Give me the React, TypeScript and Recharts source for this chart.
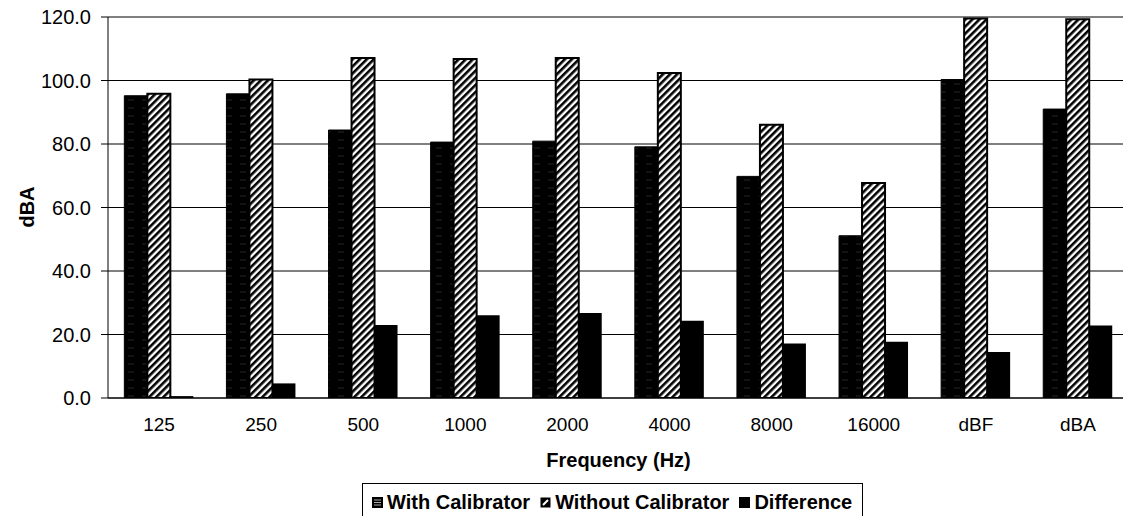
import React from 'react';
import { BarChart, Bar, XAxis, YAxis, CartesianGrid, Legend, Label } from 'recharts';

const categories = ['125', '250', '500', '1000', '2000', '4000', '8000', '16000', 'dBF', 'dBA'];
const withCalibrator = [95.2, 95.8, 84.4, 80.6, 80.9, 79.1, 69.8, 51.1, 100.3, 91.0];
const withoutCalibrator = [95.8, 100.3, 107.1, 106.8, 107.1, 102.4, 86.1, 67.7, 119.5, 119.3];
const difference = [0.6, 4.6, 23.0, 26.1, 26.8, 24.3, 17.2, 17.7, 14.5, 22.8];
const yTicks = [0, 20, 40, 60, 80, 100, 120];
const boundaryTicks = [0, 1, 2, 3, 4, 5, 6, 7, 8, 9, 10];

const seriesNames = ['With Calibrator', 'Without Calibrator', 'Difference'];

const data = categories.map((c, i) => ({
  cat: c,
  withCal: withCalibrator[i],
  withoutCal: withoutCalibrator[i],
  diff: difference[i],
}));

const FONT = '"Liberation Sans", Arial, Helvetica, sans-serif';

const Icon = ({ kind }: { kind: number }) => (
  <svg width={11} height={11} style={{ display: 'block', marginRight: 4 }}>
    {kind === 0 && (
      <g>
        <rect x={0} y={0} width={11} height={11} fill="#000" />
        <line x1={2} x2={9} y1={3} y2={3} stroke="#aaa" strokeWidth={1} />
        <line x1={2} x2={9} y1={5.5} y2={5.5} stroke="#aaa" strokeWidth={1} />
        <line x1={2} x2={9} y1={8} y2={8} stroke="#aaa" strokeWidth={1} />
      </g>
    )}
    {kind === 1 && (
      <g>
        <rect x={0.5} y={0.5} width={10} height={10} fill="#000" />
        <line x1={3} y1={8} x2={8} y2={3} stroke="#fff" strokeWidth={2} />
      </g>
    )}
    {kind === 2 && <rect x={0} y={0} width={11} height={11} fill="#000" />}
  </svg>
);

const LegendBox = () => (
  <div
    style={{
      border: '1px solid #000',
      display: 'inline-flex',
      alignItems: 'center',
      padding: '7px 10px 12px 9px',
      fontFamily: FONT,
      fontWeight: 'bold',
      fontSize: 20,
      color: '#000',
      background: '#fff',
      whiteSpace: 'nowrap',
      lineHeight: '22px',
    }}
  >
    {seriesNames.map((n, i) => (
      <div key={n} style={{ display: 'flex', alignItems: 'center', marginRight: i < 2 ? 10 : 0 }}>
        <Icon kind={i} />
        <span>{n}</span>
      </div>
    ))}
  </div>
);

const YTitle = () => (
  <text
    x={27}
    y={207}
    transform="rotate(-90 27 207)"
    textAnchor="middle"
    dominantBaseline="central"
    fontFamily={FONT}
    fontWeight="bold"
    fontSize={20}
    fill="#000"
  >
    dBA
  </text>
);

const XTitle = (props: any) => {
  const vb = props.viewBox || {};
  const cx = (vb.x ?? 108) + (vb.width ?? 1021) / 2;
  const top = vb.y ?? 398;
  return (
    <text
      x={cx}
      y={top + 62}
      textAnchor="middle"
      dominantBaseline="central"
      fontFamily={FONT}
      fontWeight="bold"
      fontSize={20}
      fill="#000"
    >
      Frequency (Hz)
    </text>
  );
};

export default function App() {
  return (
    <div
      style={{
        position: 'fixed',
        left: 0,
        top: 0,
        width: 1123,
        height: 516,
        overflow: 'hidden',
        background: '#fff',
      }}
    >
      <BarChart
        width={1140}
        height={530}
        data={data}
        margin={{ top: 17, right: 11, left: 0, bottom: 0 }}
        barCategoryGap="16%"
        barGap={0}
      >
        <defs>
          <pattern id="withCalPat" patternUnits="userSpaceOnUse" width={14} height={8}>
            <rect x={0} y={0} width={14} height={8} fill="#000" />
            <line x1={2} x2={8} y1={4} y2={4} stroke="#262626" strokeWidth={1} />
          </pattern>
          <pattern
            id="hatchPat"
            patternUnits="userSpaceOnUse"
            width={5}
            height={5}
            patternTransform="rotate(45)"
          >
            <rect x={0} y={0} width={5} height={5} fill="#fff" />
            <rect x={0} y={0} width={2.6} height={5} fill="#000" />
          </pattern>
        </defs>
        <CartesianGrid vertical={false} stroke="#000" strokeWidth={1} />
        <XAxis
          xAxisId="grid"
          type="number"
          domain={[0, 10]}
          ticks={boundaryTicks}
          allowDataOverflow
          tick={false}
          tickLine={{ stroke: '#000' }}
          tickSize={5}
          axisLine={false}
          height={0}
        />
        <XAxis
          xAxisId="cat"
          dataKey="cat"
          tickLine={false}
          tickSize={0}
          tickMargin={20}
          axisLine={{ stroke: '#000', strokeWidth: 1 }}
          tick={{ fill: '#000', fontSize: 19, fontFamily: FONT }}
          height={132}
          interval={0}
        >
          <Label content={<XTitle />} />
        </XAxis>
        <YAxis
          domain={[0, 120]}
          ticks={yTicks}
          tickFormatter={(v: number) => v.toFixed(1)}
          width={108}
          tickSize={7}
          tickMargin={10}
          axisLine={{ stroke: '#000' }}
          tickLine={{ stroke: '#000' }}
          tick={{ fill: '#000', fontSize: 20, fontFamily: FONT }}
          allowDataOverflow
        >
          <Label content={<YTitle />} />
        </YAxis>
        <Legend
          content={<LegendBox />}
          verticalAlign="middle"
          align="center"
          layout="horizontal"
          wrapperStyle={{ left: 362, top: 483, width: 'auto', height: 'auto' }}
        />
        <Bar
          xAxisId="cat"
          dataKey="withCal"
          name={seriesNames[0]}
          fill="url(#withCalPat)"
          stroke="#000"
          strokeWidth={1}
          isAnimationActive={false}
        />
        <Bar
          xAxisId="cat"
          dataKey="withoutCal"
          name={seriesNames[1]}
          fill="url(#hatchPat)"
          stroke="#000"
          strokeWidth={2}
          isAnimationActive={false}
        />
        <Bar
          xAxisId="cat"
          dataKey="diff"
          name={seriesNames[2]}
          fill="#000"
          isAnimationActive={false}
        />
      </BarChart>
    </div>
  );
}
